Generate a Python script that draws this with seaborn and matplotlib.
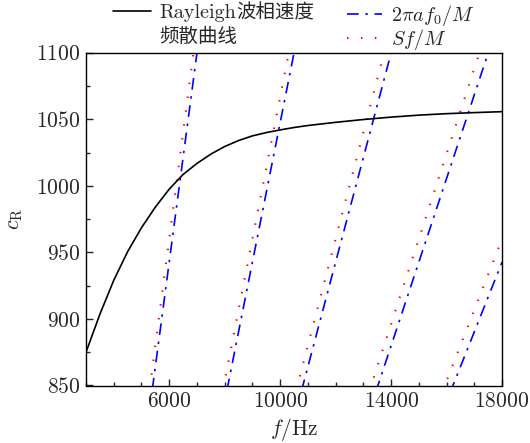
import numpy as np
import pandas as pd
import seaborn as sns
import matplotlib
matplotlib.use("Agg")
import matplotlib.pyplot as plt
from matplotlib.lines import Line2D
from matplotlib.ticker import MultipleLocator, FixedLocator

# Rayleigh phase-velocity dispersion curve
freq_hz = [3000, 3500, 4000, 4500, 5000, 5500, 6000, 6500, 7000, 7500, 8000,
           8500, 9000, 9500, 10000, 10500, 11000, 12000, 13000, 14000, 15000,
           16000, 17000, 18000]
c_rayleigh = [875, 903.5, 929, 950.5, 968.5, 984, 997.5, 1008.5, 1016.8, 1023.8,
              1029.5, 1034.0, 1037.5, 1040.0, 1042.0, 1043.8, 1045.3, 1047.7,
              1049.8, 1051.6, 1053.1, 1054.2, 1055.0, 1055.7]

# Straight lines c = k f / M
mode_M = [2, 3, 4, 5, 6]
two_pi_a = 0.3142   # 2*pi*a
S_coef = 0.32       # S

xticks_major = [6000, 10000, 14000, 18000]
yticks_major = [850, 900, 950, 1000, 1050, 1100]

sns.set_theme(style="white")
plt.rcParams["font.family"] = ["cmr10", "Noto Sans CJK SC", "DejaVu Sans"]
plt.rcParams["mathtext.fontset"] = "cm"
plt.rcParams["axes.formatter.use_mathtext"] = True
plt.rcParams["axes.unicode_minus"] = False

W, H = 530, 443
fig = plt.figure(figsize=(W / 100, H / 100), dpi=100)
ax = fig.add_axes([86 / W, 1 - 385.5 / H, (502 - 86) / W, (385.5 - 52.7) / H])

lw = 1.2
dash_dot = (0, (7, 4, 1.5, 4))
dotted = (0, (0.7, 6.0))

f_line = np.array([3000.0, 18000.0])
for M in mode_M:
    df_b = pd.DataFrame({"f": f_line, "c": two_pi_a * f_line / M})
    sns.lineplot(data=df_b, x="f", y="c", ax=ax, color="#0000ff", lw=lw,
                 linestyle=dash_dot, legend=False)
    df_r = pd.DataFrame({"f": f_line, "c": S_coef * f_line / M})
    sns.lineplot(data=df_r, x="f", y="c", ax=ax, color="#ff0000", lw=1.5,
                 linestyle=dotted, legend=False)

df_ray = pd.DataFrame({"f": freq_hz, "c": c_rayleigh})
sns.lineplot(data=df_ray, x="f", y="c", ax=ax, color="black", lw=lw, legend=False)

ax.set_xlim(3000, 18000)
ax.set_ylim(850, 1100)
ax.xaxis.set_major_locator(FixedLocator(xticks_major))
ax.xaxis.set_minor_locator(MultipleLocator(1000))
ax.yaxis.set_major_locator(FixedLocator(yticks_major))
ax.yaxis.set_minor_locator(MultipleLocator(25))
ax.tick_params(axis="both", which="major", direction="in", length=5, width=1.0,
               labelsize=15.5, bottom=True, left=True, top=False, right=False, pad=4)
ax.tick_params(axis="both", which="minor", direction="in", length=3, width=1.0,
               bottom=True, left=True, top=False, right=False)
for sp in ax.spines.values():
    sp.set_color("black")
    sp.set_linewidth(1.0)

ax.set_xlabel("$f$/Hz", fontsize=15.5, labelpad=4)
ax.set_ylabel(r"$c_{\rm R}$", fontsize=15.5, labelpad=8)

# Legends
h_black = Line2D([], [], color="black", lw=lw)
h_blue = Line2D([], [], color="#0000ff", lw=lw, linestyle=dash_dot)
h_red = Line2D([], [], color="#ff0000", lw=1.5, linestyle=dotted)

leg1 = fig.legend([h_black], ["Rayleigh"], frameon=False, fontsize=14.5,
                  handlelength=1.9, handletextpad=0.4, borderpad=0,
                  borderaxespad=0, loc="upper left",
                  bbox_to_anchor=(113 / W, 1 - 4 / H))
leg2 = fig.legend([h_blue, h_red], ["$2\\pi a f_0/M$", "$Sf/M$"], frameon=False,
                  fontsize=14.5, handlelength=1.75, handletextpad=0.45, borderpad=0,
                  borderaxespad=0, labelspacing=-0.05, loc="upper left",
                  bbox_to_anchor=(347 / W, 1 - 3 / H))

# Chinese parts of the first legend label, placed next to "Rayleigh"
fig.canvas.draw()
renderer = fig.canvas.get_renderer()
t_ray = leg1.get_texts()[0]
bb = t_ray.get_window_extent(renderer)
_, _, d1 = renderer.get_text_width_height_descent("Rayleigh", t_ray.get_fontproperties(), ismath=False)
_, _, d2 = renderer.get_text_width_height_descent("lp", t_ray.get_fontproperties(), ismath=False)
baseline = bb.y0 + max(d1, d2)
fig.text(bb.x1 / W, baseline / H, "波相速度", fontsize=14, va="baseline", ha="left",
         family=["Noto Sans CJK SC"])
fig.text(bb.x0 / W, (baseline - 23.5) / H, "频散曲线", fontsize=14, va="baseline",
         ha="left", family=["Noto Sans CJK SC"])

fig.savefig("out.png", dpi=100)
